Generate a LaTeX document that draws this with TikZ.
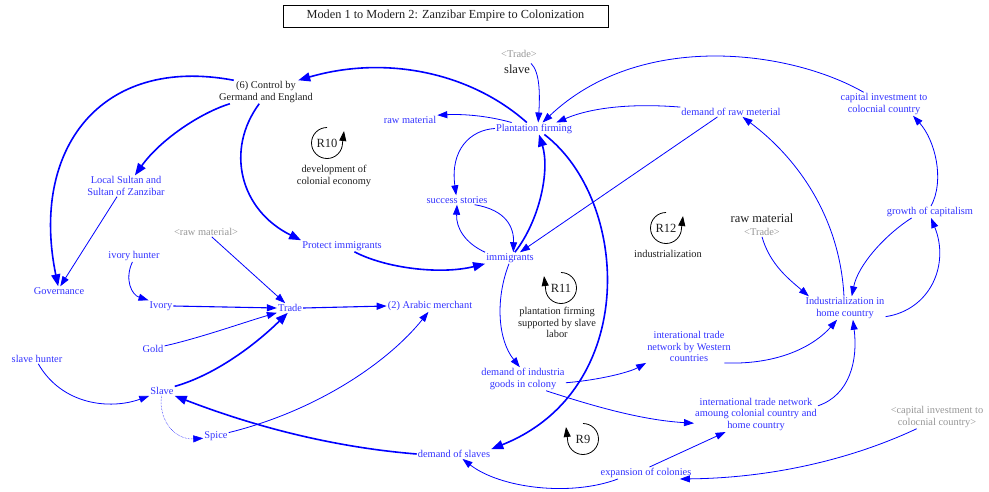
\documentclass[tikz,border=0pt]{standalone}
\usepackage{fontspec}
\setmainfont{Liberation Serif}
\usetikzlibrary{arrows.meta}
\definecolor{varblue}{RGB}{50,50,255}
\definecolor{linkblue}{RGB}{0,0,255}
\definecolor{shadowgray}{RGB}{150,150,150}
\definecolor{labelblack}{RGB}{30,30,30}
\begin{document}
\begin{tikzpicture}[x=1pt,y=-1pt,
  var/.style={text=varblue, font=\fontsize{10.4}{11.6}\selectfont, align=center, inner sep=1pt},
  shadowvar/.style={var, text=shadowgray},
  lbl/.style={var, text=labelblack},
  big/.style={text=labelblack, font=\fontsize{12.5}{14}\selectfont, inner sep=1pt},
  link/.style={draw=linkblue, line width=0.8pt, -{Triangle[length=10pt,width=7pt]}},
  midlink/.style={link, line width=1.1pt},
  heavy/.style={draw=linkblue, line width=1.6pt, -{Triangle[length=12pt,width=9pt]}},
  loopsym/.style={draw=black, line width=0.8pt, -{Triangle[length=10pt,width=7pt]}}]
\useasboundingbox (0,0) rectangle (989,491);

% title
\node[draw=black, line width=0.7pt, minimum width=325pt, minimum height=22pt,
      font=\fontsize{12.3}{14}\selectfont, text=labelblack] (title) at (445.5,16)
  {Moden 1 to Modern 2: Zanzibar Empire to Colonization};

% variables
\node[lbl] (ctrl) at (266,92) {(6) Control by\\Germand and England};
\node[var] (rawA) at (410,120) {raw material};
\node[var] (plant) at (534,128.5) {Plantation firming};
\node[shadowvar] (tradeA) at (519,54) {<Trade>};
\node[big] (slaveA) at (517,69) {slave};
\node[var] (demraw) at (731,112) {demand of raw meterial};
\node[var] (capinv) at (884,104) {capital investment to\\colocnial country};
\node[var] (success) at (457,200) {success stories};
\node[var] (immig) at (510,258) {immigrants};
\node[var] (protect) at (342,246) {Protect immigrants};
\node[var] (local) at (126,186) {Local Sultan and\\Sultan of Zanzibar};
\node[var] (gov) at (59,291) {Governance};
\node[shadowvar] (rawG) at (206,232) {<raw material>};
\node[var] (ivh) at (134,256) {ivory hunter};
\node[var] (ivory) at (161,306) {Ivory};
\node[var] (trade) at (290,308) {Trade};
\node[var] (arabic) at (430,306) {(2) Arabic merchant};
\node[var] (gold) at (153,349) {Gold};
\node[var] (slh) at (37,359) {slave hunter};
\node[var] (slave) at (162,391) {Slave};
\node[var] (spice) at (216,436) {Spice};
\node[var] (demsl) at (454,454) {demand of slaves};
\node[var] (demind) at (523,379) {demand of industria\\goods in colony};
\node[var] (intlW) at (689,346.5) {interational trade\\network by Western\\countries};
\node[var] (intlC) at (756,414.5) {international trade network\\amoung colonial country and\\home country};
\node[big] (rawB) at (762,218) {raw material};
\node[shadowvar] (tradeB) at (762,232) {<Trade>};
\node[var] (growth) at (930,212) {growth of capitalism};
\node[var] (indus) at (845,308) {Industrialization in\\home country};
\node[shadowvar] (capG) at (937,417) {<capital investment to\\colocnial country>};
\node[var] (expan) at (646,473) {expansion of colonies};

% loop identifiers
\node[big] (r10) at (327,143) {R10};
\node[lbl] (r10t) at (334,176) {development of\\colonial economy};
\node[big] (r11) at (561,288) {R11};
\node[lbl] (r11t) at (557,322.5) {plantation firming\\supported by slave\\labor};
\node[big] (r12) at (666,228) {R12};
\node[lbl] (r12t) at (668,254) {industrialization};
\node[big] (r9) at (583,439) {R9};

\draw[loopsym] ([yshift=15.5pt]r10.center) arc[start angle=90, end angle=360, radius=15.5pt] -- ++(1.5pt,12pt);
\draw[loopsym] ([yshift=15.5pt]r12.center) arc[start angle=90, end angle=360, radius=15.5pt] -- ++(1.5pt,12pt);
\draw[loopsym] ([yshift=15.5pt]r11.center) arc[start angle=90, end angle=-180, radius=15.5pt] -- ++(-1.5pt,12pt);
\draw[loopsym] ([yshift=15.5pt]r9.center) arc[start angle=90, end angle=-180, radius=15.5pt] -- ++(-1.5pt,12pt);

% heavy links
\draw[heavy] (plant.140) .. controls (470,72) and (385,55) .. (ctrl.20);
\draw[heavy] (ctrl.198) .. controls (200,113) and (160,140) .. (local.50);
\draw[heavy] (ctrl.160) .. controls (100,55) and (30,150) .. (gov.100);
\draw[heavy] (ctrl.240) .. controls (225,150) and (240,210) .. (protect.north west);
\draw[heavy] (protect.-25) .. controls (385,268) and (440,275) .. (immig.south west);
\draw[heavy] (immig.50) .. controls (540,220) and (550,170) .. (plant.-50);
\draw[heavy] (plant.-30) .. controls (630,200) and (640,390) .. (demsl.north east);
\draw[heavy] (slave.20) .. controls (215,375) and (255,345) .. (trade.-115);
\draw[heavy] (demsl.west) .. controls (330,447) and (250,425) .. (slave.south east);

% ordinary links
\draw[link] (plant.165) .. controls (485,115) and (460,114) .. (rawA.10);
\draw[link] (plant.west) .. controls (470,130) and (450,150) .. (success.100);
\draw[link] (slaveA.north east) .. controls (540,72) and (540,95) .. (plant.55);
\draw[link] (capinv.150) .. controls (790,50) and (640,30) .. (plant.35);
\draw[link] (demraw.north west) .. controls (630,103) and (590,108) .. (plant.15);
\draw[link] (demraw.200) -- (immig.30);
\draw[link] (success.-15) .. controls (507,210) and (514,228) .. (immig.60);
\draw[link] (immig.north west) .. controls (465,243) and (456,228) .. (success.south);
\draw[link] (immig.-100) .. controls (495,300) and (498,340) .. (demind.105);
\draw[link] (local.230) -- (gov.75);
\draw[link] (rawG.-40) -- (trade.135);
\draw[link] (ivh.-105) .. controls (124,280) and (132,295) .. (ivory.north west);
\draw[midlink] (ivory.east) -- (trade.west);
\draw[link] (gold.15) .. controls (200,338) and (245,322) .. (trade.200);
\draw[midlink] (trade.east) -- (arabic.west);
\draw[link] (spice.15) .. controls (320,410) and (390,360) .. (arabic.-105);
\draw[link, line width=0.5pt, densely dotted] (slave.-95) .. controls (158,420) and (175,440) .. (spice.190);
\draw[link] (slh.-75) .. controls (62,405) and (110,410) .. (slave.south west);
\draw[link] (expan.192) .. controls (570,497) and (500,488) .. (demsl.-30);
\draw[link] (capG.210) .. controls (850,460) and (770,478) .. (expan.-10);
\draw[link] (expan.60) -- (intlC.-150);
\draw[link] (demind.-5) .. controls (600,380) and (630,372) .. (intlW.south west);
\draw[link] (demind.-27) .. controls (590,405) and (640,420) .. (intlC.188);
\draw[link] (intlW.-25) .. controls (780,365) and (815,345) .. (indus.236);
\draw[link] (intlC.8) .. controls (850,395) and (858,360) .. (indus.-56);
\draw[link] (indus.-12) .. controls (930,310) and (950,265) .. (growth.-80);
\draw[link] (growth.198) .. controls (885,235) and (858,265) .. (indus.60);
\draw[link] (growth.80) .. controls (945,180) and (935,140) .. (capinv.-22.5);
\draw[link] (indus.95) .. controls (840,220) and (800,160) .. (demraw.-23);
\draw[link] (tradeB.south) .. controls (770,265) and (790,280) .. (indus.162);
\end{tikzpicture}
\end{document}
